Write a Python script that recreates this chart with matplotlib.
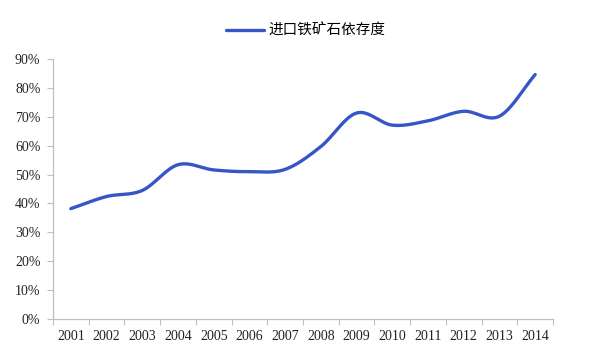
import numpy as np
import matplotlib
matplotlib.use("Agg")
import matplotlib.pyplot as plt
from matplotlib.ticker import FixedLocator, PercentFormatter

years = ["2001", "2002", "2003", "2004", "2005", "2006", "2007",
         "2008", "2009", "2010", "2011", "2012", "2013", "2014"]
dependence = [38.2, 42.4, 44.5, 53.4, 51.6, 51.0, 51.8,
              59.7, 71.3, 67.1, 68.6, 71.9, 70.2, 84.6]
series_name = "进口铁矿石依存度"

def catmull_rom(x, y, n=30):
    x = np.asarray(x, float); y = np.asarray(y, float)
    px = np.concatenate([[2*x[0]-x[1]], x, [2*x[-1]-x[-2]]])
    py = np.concatenate([[2*y[0]-y[1]], y, [2*y[-1]-y[-2]]])
    xs, ys = [], []
    for i in range(1, len(px)-2):
        t = np.linspace(0, 1, n, endpoint=False)
        for P, out in ((px, xs), (py, ys)):
            p0, p1, p2, p3 = P[i-1], P[i], P[i+1], P[i+2]
            out.extend(0.5*((2*p1) + (-p0+p2)*t + (2*p0-5*p1+4*p2-p3)*t**2
                            + (-p0+3*p1-3*p2+p3)*t**3))
    xs.append(x[-1]); ys.append(y[-1])
    return np.array(xs), np.array(ys)

fig = plt.figure(figsize=(6.0, 3.53), dpi=100)
ax = fig.add_axes([0.0883, 0.0963, 0.8334, 0.7366])

xi = np.arange(len(years))
sx, sy = catmull_rom(xi, dependence)
line, = ax.plot(sx, sy, color="#3656c8", lw=2.4, solid_capstyle="round",
                label=series_name)

ax.set_xlim(-0.5, len(years) - 0.5)
ax.set_ylim(0, 90)
ax.set_yticks(np.arange(0, 91, 10))
ax.yaxis.set_major_formatter(PercentFormatter(decimals=0))

ax.xaxis.set_major_locator(FixedLocator(np.arange(-0.5, len(years), 1.0)))
ax.xaxis.set_minor_locator(FixedLocator(xi))
ax.set_xticklabels([], minor=False)
ax.set_xticklabels(years, minor=True)
ax.tick_params(axis="x", which="minor", length=0, pad=8)
ax.tick_params(axis="x", which="major", length=4, color="#bfbfbf", direction="out")
ax.tick_params(axis="y", length=4, color="#bfbfbf", direction="out", pad=5)

for lbl in ax.get_xticklabels(minor=True) + ax.get_yticklabels():
    lbl.set_fontfamily("Liberation Serif")
    lbl.set_fontsize(10)
    lbl.set_color("#222222")

for s in ("top", "right"):
    ax.spines[s].set_visible(False)
for s in ("left", "bottom"):
    ax.spines[s].set_color("#bfbfbf")
    ax.spines[s].set_linewidth(0.9)

fig.legend(handles=[line], loc="center", bbox_to_anchor=(0.51, 0.912),
           frameon=False, handlelength=2.6, handletextpad=0.3,
           prop={"family": ["Noto Sans CJK SC", "DejaVu Sans"], "size": 10.5})

fig.savefig("out.png", dpi=100, facecolor="white")
